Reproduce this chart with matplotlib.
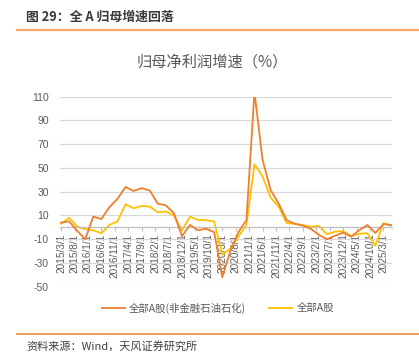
import matplotlib
matplotlib.use("Agg")
import matplotlib.pyplot as plt
import pandas as pd
import numpy as np

plt.rcParams['font.family'] = ['Noto Sans CJK SC', 'DejaVu Sans']

# ---------------- data ----------------
start_date = "2015-03-01"
n_quarters = 42  # 2015Q1 .. 2025Q2
series_a_name = "全部A股(非金融石油石化)"
series_a = [4, 5, -3, -10,
            9, 7, 17, 24,
            34, 30.6, 33, 31,
            20, 18.5, 12, -7.5,
            2, -2.5, -1.2, -4,
            -42, -20, -4, 6,
            114, 57, 31.5, 20,
            6, 3, 1.5, -1.3,
            -6.4, -10, -7.2, -4.4,
            -7.8, -2.5, 2, -4.8,
            2.8, 1.8]
series_b_name = "全部A股"
series_b = [3, 8, 0.6, -1.6,
            -2.5, -5, 2, 5,
            19.4, 16, 18, 17.5,
            12.7, 13.3, 10, -2.5,
            9, 6.2, 6, 5,
            -23, -18, -7.8, 2,
            53, 43, 25, 17.5,
            3.4, 3, 1.8, 0.6,
            1.2, -5.8, -3.6, -3.2,
            -7.5, -5.4, -5, -15.5,
            3.4, 1.6]
tick_labels = ["2015/3/1", "2015/8/1", "2016/1/1", "2016/6/1", "2016/11/1",
               "2017/4/1", "2017/9/1", "2018/2/1", "2018/7/1", "2018/12/1",
               "2019/5/1", "2019/10/1", "2020/3/1", "2020/8/1", "2021/1/1",
               "2021/6/1", "2021/11/1", "2022/4/1", "2022/9/1", "2023/2/1",
               "2023/7/1", "2023/12/1", "2024/5/1", "2024/10/1", "2025/3/1"]
y_ticks = [110, 90, 70, 50, 30, 10, -10, -30, -50]

fig_title = "图 29：全 A 归母增速回落"
chart_title = "归母净利润增速（%）"
source = "资料来源：Wind，天风证券研究所"

# ---------------- helpers ----------------
base = pd.Timestamp(start_date)
dates = pd.date_range(start_date, periods=n_quarters, freq="3MS")
def month_idx(d):
    d = pd.Timestamp(d)
    return (d.year - base.year) * 12 + (d.month - base.month)
x = np.array([month_idx(d) for d in dates])
tick_pos = [month_idx(pd.Timestamp(t.replace("/", "-"))) for t in tick_labels]

# ---------------- figure ----------------
fig = plt.figure(figsize=(4.19, 3.58), dpi=100)
W, H = 419, 358
ax = fig.add_axes([60 / W, 1 - 286.7 / H, (392 - 60) / W, (286.7 - 96.7) / H])

orange = "#EE7F2D"
yellow = "#FFC000"
grey_txt = "#595959"

ax.plot(x, series_a, color=orange, lw=1.3, label=series_a_name, zorder=3)
ax.plot(x, series_b, color=yellow, lw=1.3, label=series_b_name, zorder=2)

ax.set_ylim(-50, 110)
ax.set_xlim(-0.4, x[-1] + 0.2)
ax.set_yticks(y_ticks)
ax.set_yticklabels([str(v) for v in y_ticks], fontsize=7.5, color=grey_txt,
                   family=['Liberation Sans', 'DejaVu Sans'])
ax.yaxis.grid(True, color="#D9D9D9", lw=0.9)
ax.set_axisbelow(True)
ax.tick_params(axis='y', length=0, pad=8)

for s in ['left', 'right', 'top']:
    ax.spines[s].set_visible(False)
ax.spines['bottom'].set_position(('data', 0))
ax.spines['bottom'].set_color("#BFBFBF")
ax.spines['bottom'].set_linewidth(0.9)

ax.set_xticks(tick_pos)
ax.set_xticklabels(tick_labels, rotation=90, fontsize=7.2, color=grey_txt,
                   family=['Liberation Sans', 'DejaVu Sans'])
ax.tick_params(axis='x', length=3, color="#BFBFBF", pad=1.5)

# titles
fig.text(26 / W, 1 - 17 / H, fig_title, fontsize=9.3, fontweight='bold',
         color="#3A3A3A", va='center', ha='left')
fig.add_artist(plt.Line2D([17 / W, 1], [1 - 30 / H, 1 - 30 / H],
                          color="#F6A96A", lw=1.6))
fig.text(212 / W, 1 - 62 / H, chart_title, fontsize=11, color=grey_txt,
         va='center', ha='center')

# legend
leg = fig.legend(loc='center', bbox_to_anchor=(218 / W, 1 - 308 / H), ncol=2,
                 frameon=False, fontsize=7.5, handlelength=2.2,
                 columnspacing=2.2, handletextpad=0.4)
for t in leg.get_texts():
    t.set_color(grey_txt)

# footer
fig.add_artist(plt.Line2D([17 / W, 1], [1 - 333.5 / H, 1 - 333.5 / H],
                          color="#F0944A", lw=1.3))
fig.text(26 / W, 1 - 346 / H, source, fontsize=8, color="#404040",
         va='center', ha='left')

fig.savefig("out.png", dpi=100)
